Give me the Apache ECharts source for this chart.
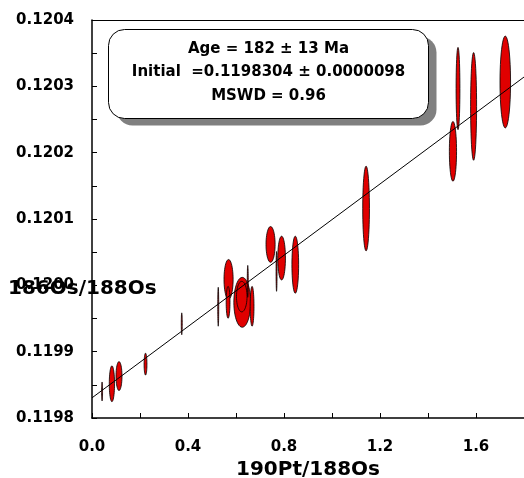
<!DOCTYPE html>
<html>
<head>
<meta charset="utf-8">
<style>
  html, body { margin: 0; padding: 0; background: #fff; }
  #container { width: 524px; height: 478px; }
</style>
<script src="https://cdn.jsdelivr.net/npm/echarts@6/dist/echarts.min.js"></script>
</head>
<body>
<div id="container"></div>
<script>
// error ellipses: centre x, centre y, half-width in x, half-height in y
var ellX  = [0.042, 0.083, 0.1125, 0.223, 0.374, 0.526, 0.569, 0.567, 0.626, 0.624, 0.649,
             0.667, 0.744, 0.769, 0.790, 0.847, 1.142, 1.525, 1.504, 1.590, 1.722];
var ellY  = [0.119840, 0.1198516, 0.1198632, 0.1198812, 0.119942, 0.1199677, 0.1200090,
             0.1199744, 0.1199744, 0.119983, 0.120006, 0.1199684, 0.1200617, 0.120021,
             0.1200411, 0.1200311, 0.1201158, 0.1202967, 0.1202020, 0.1202697, 0.1203065];
var ellDX = [0.002, 0.011, 0.0125, 0.006, 0.002, 0.002, 0.019, 0.008, 0.035, 0.022, 0.002,
             0.008, 0.019, 0.002, 0.016, 0.014, 0.014, 0.008, 0.015, 0.0125, 0.022];
var ellDY = [0.0000143, 0.000027, 0.0000218, 0.0000165, 0.0000165, 0.0000293, 0.00003,
             0.000024, 0.0000376, 0.000023, 0.000024, 0.00003, 0.000027, 0.00003,
             0.000033, 0.000043, 0.0000639, 0.000062, 0.000045, 0.0000812, 0.0000692];

// isochron line end points
var lineX = [0, 1.8];
var lineY = [0.1198304, 0.1203140];

var boxLines = ['Age = 182 \u00b1 13 Ma', 'Initial  =0.1198304 \u00b1 0.0000098', 'MSWD = 0.96'];

var FONT = '"DejaVu Sans", "Liberation Sans", sans-serif';

var ellData = ellX.map(function (x, i) { return [x, ellY[i], ellDX[i], ellDY[i]]; });
var lineData = lineX.map(function (x, i) { return [x, lineY[i]]; });

var dom = document.getElementById('container');
var myChart = echarts.init(dom, null, { renderer: 'canvas' });

var option = {
  animation: false,
  grid: { left: 92, right: 0, top: 20, bottom: 60, outerBoundsMode: 'none' },
  xAxis: [{
    type: 'value',
    min: 0, max: 1.8, interval: 0.2,
    name: '190Pt/188Os',
    nameLocation: 'middle',
    nameGap: 38,
    nameTextStyle: { fontFamily: FONT, fontWeight: 'bold', fontSize: 20, color: '#000' },
    axisLine: { lineStyle: { color: '#000', width: 1.5 } },
    axisTick: { inside: true, length: 5, lineStyle: { color: '#000' } },
    axisLabel: {
      margin: 22,
      fontFamily: FONT, fontWeight: 'bold', fontSize: 15, color: '#000',
      formatter: function (v) {
        var k = Math.round(v * 10);
        return (k % 4 === 0 && v < 1.7) ? v.toFixed(1) : '';
      }
    },
    splitLine: { show: false }
  }, {
    type: 'value', position: 'top',
    min: 0, max: 1.8,
    axisLine: { show: true, onZero: false, lineStyle: { color: '#000', width: 1 } },
    axisTick: { show: false }, axisLabel: { show: false }, splitLine: { show: false }
  }],
  yAxis: {
    type: 'value',
    min: 0.1198, max: 0.1204, interval: 0.0001,
    axisLine: { show: true, lineStyle: { color: '#000', width: 1.5 } },
    axisTick: { inside: true, length: 5, lineStyle: { color: '#000' } },
    minorTick: { show: true, splitNumber: 2, length: 5, lineStyle: { color: '#000' } },
    axisLabel: {
      margin: 18,
      fontFamily: FONT, fontWeight: 'bold', fontSize: 15, color: '#000',
      formatter: function (v) { return v.toFixed(4); }
    },
    splitLine: { show: false }
  },
  graphic: [
    {
      type: 'text', left: 8, top: 279, z: 100,
      style: { text: '186Os/188Os', font: 'bold 20px ' + FONT, fill: '#000' }
    },
    {
      type: 'group', left: 108, top: 29, z: 50,
      children: [
        { type: 'rect', shape: { x: 8, y: 7, width: 320, height: 89, r: 16 }, style: { fill: '#808080' } },
        { type: 'rect', shape: { x: 0, y: 0, width: 320, height: 89, r: 16 }, style: { fill: '#fff', stroke: '#000', lineWidth: 1 } },
        { type: 'text', x: 160, y: 20, style: { text: boxLines[0], font: 'bold 15px ' + FONT, fill: '#000', align: 'center', verticalAlign: 'middle' } },
        { type: 'text', x: 160, y: 43, style: { text: boxLines[1], font: 'bold 15px ' + FONT, fill: '#000', align: 'center', verticalAlign: 'middle' } },
        { type: 'text', x: 160, y: 67, style: { text: boxLines[2], font: 'bold 15px ' + FONT, fill: '#000', align: 'center', verticalAlign: 'middle' } }
      ]
    }
  ],
  series: [
    {
      type: 'custom',
      data: ellData,
      z: 2,
      renderItem: function (params, api) {
        var cx = api.value(0), cy = api.value(1), dx = api.value(2), dy = api.value(3);
        var pts = [];
        for (var k = 0; k < 48; k++) {
          var t = 2 * Math.PI * k / 48;
          pts.push(api.coord([cx + dx * Math.cos(t), cy + dy * Math.sin(t)]));
        }
        return {
          type: 'polygon',
          shape: { points: pts },
          style: { fill: '#e00000', stroke: '#000', lineWidth: 0.8 }
        };
      }
    },
    {
      type: 'line',
      data: lineData,
      z: 3,
      symbol: 'none',
      lineStyle: { color: '#000', width: 1 }
    }
  ]
};

myChart.setOption(option);
window.addEventListener('resize', myChart.resize);
</script>
</body>
</html>
